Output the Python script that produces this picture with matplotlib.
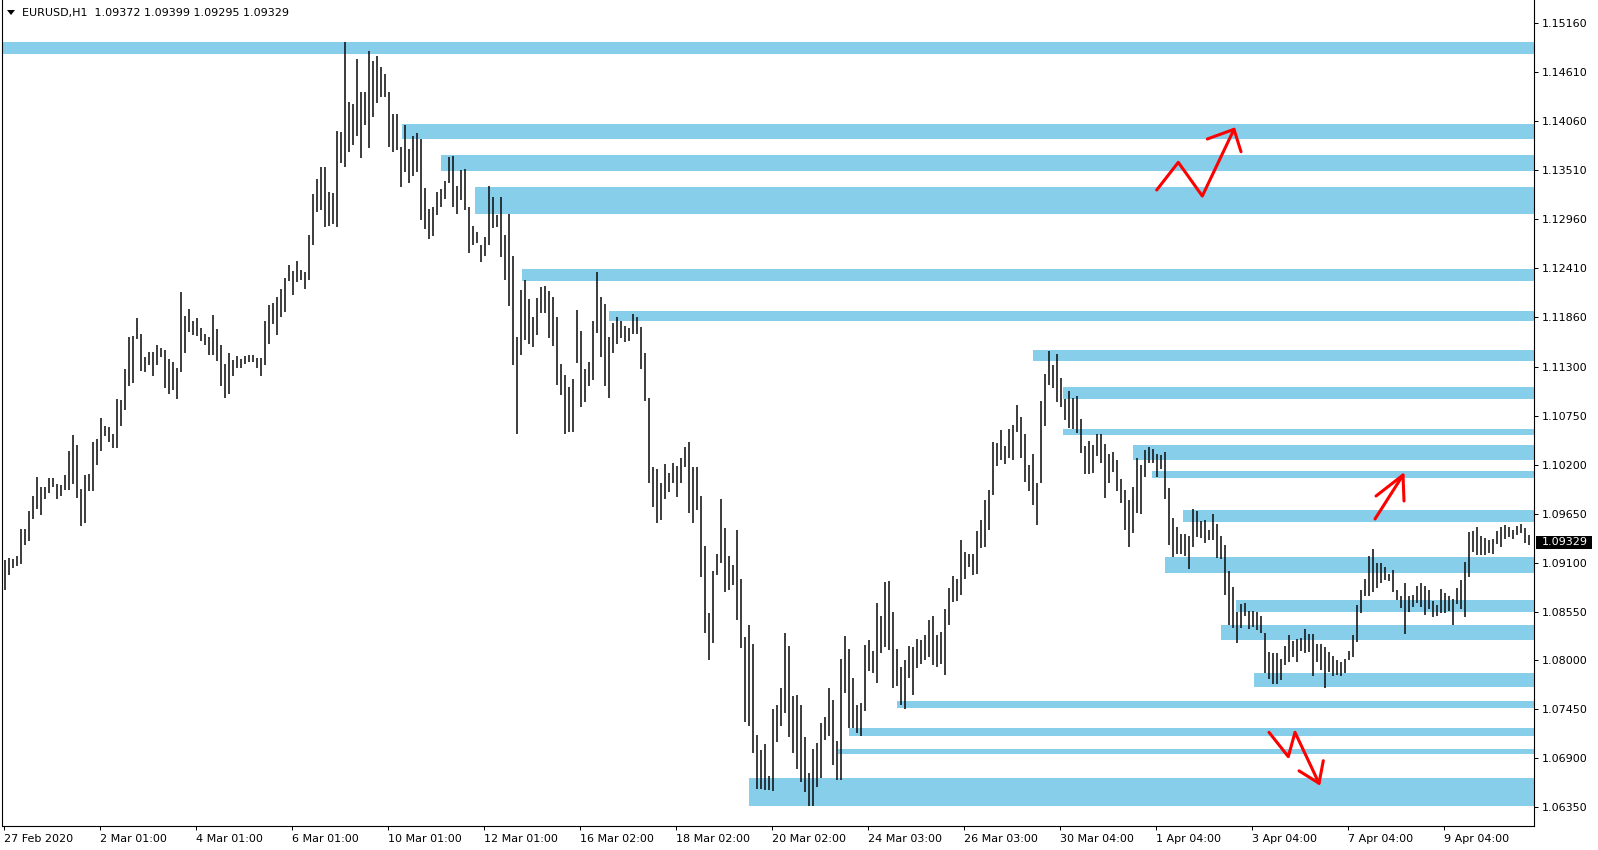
import matplotlib
matplotlib.use("Agg")
import matplotlib.pyplot as plt
from matplotlib.patches import Rectangle, Polygon
from matplotlib.transforms import blended_transform_factory

# ---------------- data ----------------
header_text = "EURUSD,H1  1.09372 1.09399 1.09295 1.09329"
last_price = 1.09329

# x tick labels (every 48 hourly bars)
time_tick_bars = [0, 48, 96, 144, 192, 240, 288, 336, 384, 432, 480, 528, 576, 624, 672, 720]
time_tick_labels = ["27 Feb 2020", "2 Mar 01:00", "4 Mar 01:00", "6 Mar 01:00",
                    "10 Mar 01:00", "12 Mar 01:00", "16 Mar 02:00", "18 Mar 02:00",
                    "20 Mar 02:00", "24 Mar 03:00", "26 Mar 03:00", "30 Mar 04:00",
                    "1 Apr 04:00", "3 Apr 04:00", "7 Apr 04:00", "9 Apr 04:00"]

price_ticks = [1.15160, 1.14610, 1.14060, 1.13510, 1.12960, 1.12410, 1.11860, 1.11300,
               1.10750, 1.10200, 1.09650, 1.09100, 1.08550, 1.08000, 1.07450, 1.06900,
               1.06350]

# high / low of each pair of H1 bars (2-hour blocks)
high = [
    1.0913, 1.0915, 1.0914, 1.0917, 1.0948, 1.0948, 1.0968, 1.0985, 1.1006, 1.0995,
    1.0995, 1.1005, 1.1005, 1.0998, 1.0997, 1.1008, 1.1035, 1.1053, 1.1042, 1.0993,
    1.1008, 1.1009, 1.1045, 1.1049, 1.1073, 1.1064, 1.1062, 1.1054, 1.1094, 1.1093,
    1.1128, 1.1163, 1.1165, 1.1185, 1.1167, 1.1141, 1.1147, 1.1147, 1.1155, 1.1151,
    1.1149, 1.1139, 1.1135, 1.1129, 1.1214, 1.1187, 1.1195, 1.1182, 1.1185, 1.1174,
    1.1167, 1.1163, 1.1188, 1.1173, 1.1154, 1.1133, 1.1146, 1.1138, 1.1142, 1.1139,
    1.1142, 1.1143, 1.1143, 1.1140, 1.1140, 1.1182, 1.1200, 1.1202, 1.1208, 1.1218,
    1.1230, 1.1244, 1.1238, 1.1249, 1.1239, 1.1237, 1.1278, 1.1324, 1.1341, 1.1355,
    1.1355, 1.1327, 1.1325, 1.1395, 1.1394, 1.1495, 1.1428, 1.1425, 1.1476, 1.1439,
    1.1439, 1.1485, 1.1474, 1.1479, 1.1467, 1.1459, 1.1439, 1.1414, 1.1414, 1.1377,
    1.1402, 1.1375, 1.1389, 1.1393, 1.1386, 1.1331, 1.1307, 1.1310, 1.1326, 1.1330,
    1.1339, 1.1366, 1.1367, 1.1333, 1.1351, 1.1352, 1.1310, 1.1288, 1.1281, 1.1267,
    1.1276, 1.1333, 1.1321, 1.1301, 1.1321, 1.1278, 1.1302, 1.1254, 1.1164, 1.1216,
    1.1227, 1.1206, 1.1186, 1.1207, 1.1220, 1.1221, 1.1215, 1.1209, 1.1186, 1.1133,
    1.1121, 1.1107, 1.1116, 1.1194, 1.1170, 1.1128, 1.1135, 1.1182, 1.1237, 1.1209,
    1.1201, 1.1164, 1.1179, 1.1186, 1.1181, 1.1176, 1.1174, 1.1189, 1.1186, 1.1175,
    1.1146, 1.1095, 1.1017, 1.1015, 1.0999, 1.1021, 1.1011, 1.1022, 1.1018, 1.1028,
    1.1040, 1.1046, 1.1017, 1.1017, 1.0985, 1.0929, 1.0853, 1.0901, 1.0920, 1.0981,
    1.0949, 1.0917, 1.0907, 1.0947, 1.0891, 1.0826, 1.0840, 1.0819, 1.0716, 1.0699,
    1.0706, 1.0670, 1.0745, 1.0750, 1.0769, 1.0831, 1.0816, 1.0760, 1.0761, 1.0750,
    1.0714, 1.0673, 1.0700, 1.0707, 1.0730, 1.0737, 1.0769, 1.0756, 1.0709, 1.0802,
    1.0828, 1.0813, 1.0780, 1.0750, 1.0752, 1.0817, 1.0823, 1.0811, 1.0865, 1.0850,
    1.0888, 1.0889, 1.0855, 1.0813, 1.0793, 1.0800, 1.0816, 1.0815, 1.0824, 1.0823,
    1.0829, 1.0846, 1.0850, 1.0829, 1.0832, 1.0858, 1.0882, 1.0895, 1.0891, 1.0935,
    1.0922, 1.0920, 1.0920, 1.0945, 1.0958, 1.0980, 1.0992, 1.1045, 1.1044, 1.1059,
    1.1041, 1.1060, 1.1065, 1.1087, 1.1074, 1.1055, 1.1020, 1.1032, 1.1000, 1.1092,
    1.1122, 1.1148, 1.1132, 1.1144, 1.1117, 1.1094, 1.1103, 1.1095, 1.1097, 1.1071,
    1.1041, 1.1047, 1.1042, 1.1055, 1.1055, 1.1043, 1.1032, 1.1034, 1.1025, 1.1004,
    1.0992, 1.0980, 1.0995, 1.1028, 1.1020, 1.1037, 1.1040, 1.1038, 1.1032, 1.1031,
    1.1034, 1.0994, 1.0960, 1.0950, 1.0942, 1.0942, 1.0940, 1.0970, 1.0968, 1.0957,
    1.0958, 1.0947, 1.0965, 1.0953, 1.0940, 1.0930, 1.0901, 1.0883, 1.0854, 1.0864,
    1.0865, 1.0856, 1.0856, 1.0854, 1.0850, 1.0831, 1.0810, 1.0808, 1.0808, 1.0802,
    1.0816, 1.0829, 1.0822, 1.0824, 1.0825, 1.0835, 1.0830, 1.0830, 1.0819, 1.0819,
    1.0815, 1.0809, 1.0805, 1.0801, 1.0798, 1.0802, 1.0811, 1.0829, 1.0862, 1.0879,
    1.0891, 1.0917, 1.0925, 1.0910, 1.0910, 1.0905, 1.0897, 1.0902, 1.0879, 1.0872,
    1.0887, 1.0872, 1.0874, 1.0884, 1.0887, 1.0884, 1.0879, 1.0867, 1.0862, 1.0880,
    1.0876, 1.0872, 1.0869, 1.0882, 1.0890, 1.0911, 1.0944, 1.0946, 1.0950, 1.0940,
    1.0938, 1.0935, 1.0936, 1.0945, 1.0950, 1.0952, 1.0950, 1.0947, 1.0951, 1.0953,
    1.0949, 1.0941,
]
low = [
    1.0879, 1.0896, 1.0904, 1.0906, 1.0908, 1.0930, 1.0934, 1.0959, 1.0970, 1.0964,
    1.0981, 1.0988, 1.0995, 1.0982, 1.0985, 1.0992, 1.0992, 1.0998, 1.0983, 1.0951,
    1.0955, 1.0990, 1.0990, 1.1020, 1.1035, 1.1052, 1.1046, 1.1039, 1.1039, 1.1063,
    1.1082, 1.1108, 1.1112, 1.1161, 1.1125, 1.1124, 1.1132, 1.1120, 1.1132, 1.1141,
    1.1106, 1.1100, 1.1104, 1.1094, 1.1124, 1.1146, 1.1169, 1.1166, 1.1165, 1.1159,
    1.1155, 1.1143, 1.1143, 1.1136, 1.1109, 1.1095, 1.1100, 1.1120, 1.1129, 1.1129,
    1.1133, 1.1135, 1.1135, 1.1129, 1.1120, 1.1132, 1.1156, 1.1178, 1.1166, 1.1186,
    1.1192, 1.1226, 1.1211, 1.1225, 1.1227, 1.1218, 1.1227, 1.1267, 1.1304, 1.1306,
    1.1287, 1.1288, 1.1291, 1.1287, 1.1359, 1.1355, 1.1371, 1.1379, 1.1389, 1.1365,
    1.1402, 1.1376, 1.1411, 1.1427, 1.1433, 1.1433, 1.1377, 1.1371, 1.1374, 1.1332,
    1.1349, 1.1336, 1.1344, 1.1349, 1.1295, 1.1285, 1.1274, 1.1277, 1.1301, 1.1310,
    1.1319, 1.1337, 1.1310, 1.1302, 1.1318, 1.1306, 1.1258, 1.1267, 1.1269, 1.1248,
    1.1254, 1.1267, 1.1286, 1.1287, 1.1253, 1.1227, 1.1198, 1.1132, 1.1055, 1.1143,
    1.1160, 1.1156, 1.1152, 1.1166, 1.1190, 1.1190, 1.1162, 1.1153, 1.1110, 1.1098,
    1.1055, 1.1057, 1.1057, 1.1134, 1.1085, 1.1090, 1.1109, 1.1115, 1.1168, 1.1141,
    1.1109, 1.1095, 1.1146, 1.1156, 1.1162, 1.1158, 1.1159, 1.1167, 1.1167, 1.1128,
    1.1092, 1.1000, 1.0973, 1.0955, 1.0958, 1.0981, 1.0989, 1.1000, 1.0984, 1.1000,
    1.1017, 1.0966, 1.0955, 1.0969, 1.0894, 1.0831, 1.0801, 1.0820, 1.0896, 1.0909,
    1.0877, 1.0879, 1.0885, 1.0845, 1.0814, 1.0731, 1.0726, 1.0696, 1.0656, 1.0656,
    1.0654, 1.0654, 1.0653, 1.0708, 1.0726, 1.0741, 1.0714, 1.0696, 1.0678, 1.0663,
    1.0652, 1.0637, 1.0636, 1.0658, 1.0668, 1.0711, 1.0715, 1.0683, 1.0666, 1.0666,
    1.0764, 1.0724, 1.0724, 1.0718, 1.0715, 1.0743, 1.0788, 1.0786, 1.0775, 1.0808,
    1.0815, 1.0812, 1.0769, 1.0771, 1.0750, 1.0746, 1.0780, 1.0761, 1.0792, 1.0796,
    1.0801, 1.0804, 1.0795, 1.0793, 1.0796, 1.0784, 1.0840, 1.0866, 1.0867, 1.0874,
    1.0892, 1.0905, 1.0896, 1.0897, 1.0926, 1.0927, 1.0947, 1.0986, 1.1018, 1.1025,
    1.1021, 1.1027, 1.1025, 1.1057, 1.1027, 1.1001, 1.0990, 1.0975, 1.0952, 1.1000,
    1.1064, 1.1110, 1.1106, 1.1090, 1.1085, 1.1070, 1.1061, 1.1060, 1.1056, 1.1033,
    1.1010, 1.1010, 1.1011, 1.1030, 1.1022, 1.0983, 1.1000, 1.1012, 1.0990, 1.0977,
    1.0947, 1.0927, 1.0943, 1.0966, 1.0965, 1.1006, 1.1022, 1.1022, 1.1006, 1.1015,
    1.0981, 1.0930, 1.0916, 1.0920, 1.0920, 1.0917, 1.0903, 1.0928, 1.0939, 1.0938,
    1.0932, 1.0935, 1.0935, 1.0915, 1.0914, 1.0874, 1.0840, 1.0837, 1.0820, 1.0836,
    1.0850, 1.0835, 1.0838, 1.0834, 1.0831, 1.0786, 1.0779, 1.0774, 1.0774, 1.0778,
    1.0795, 1.0798, 1.0804, 1.0798, 1.0811, 1.0808, 1.0810, 1.0783, 1.0798, 1.0789,
    1.0769, 1.0787, 1.0782, 1.0784, 1.0782, 1.0786, 1.0801, 1.0804, 1.0821, 1.0853,
    1.0872, 1.0872, 1.0877, 1.0881, 1.0887, 1.0890, 1.0889, 1.0877, 1.0868, 1.0859,
    1.0830, 1.0855, 1.0860, 1.0865, 1.0860, 1.0851, 1.0858, 1.0849, 1.0850, 1.0853,
    1.0853, 1.0856, 1.0840, 1.0863, 1.0858, 1.0849, 1.0894, 1.0922, 1.0919, 1.0919,
    1.0919, 1.0921, 1.0920, 1.0931, 1.0928, 1.0936, 1.0939, 1.0936, 1.0941, 1.0943,
    1.0932, 1.09295,
]

# supply / demand zones: starting bar, top price, bottom price
zone_start = [-0.8, 199.0, 218.7, 235.7, 259.0, 302.5, 514.5, 529.5, 529.7, 564.5,
              574.0, 589.5, 580.7, 616.2, 608.7, 625.2, 446.7, 422.7, 417.2, 372.7]
zone_top = [1.14953, 1.14028, 1.13680, 1.13324, 1.12396, 1.11927, 1.11488, 1.11076,
            1.10598, 1.10421, 1.10129, 1.09691, 1.09166, 1.08680, 1.08398, 1.07863,
            1.07545, 1.07238, 1.07002, 1.06674]
zone_bottom = [1.14812, 1.13857, 1.13504, 1.13014, 1.12268, 1.11815, 1.11368, 1.10938,
               1.10534, 1.10253, 1.10054, 1.09560, 1.08986, 1.08548, 1.08230, 1.07706,
               1.07470, 1.07151, 1.06946, 1.06364]

# hand-drawn red arrows (bar, price)
arrow_up_zigzag = ([576.55, 587.35, 599.35, 615.2], [1.13287, 1.13598, 1.13219, 1.13969])
arrow_up_zigzag_head = ([601.85, 615.2, 618.7], [1.13860, 1.13969, 1.13717])
arrow_up = ([685.7, 699.7], [1.09590, 1.10084])
arrow_up_head = ([686.2, 699.7, 700.2], [1.09848, 1.10084, 1.09792])
arrow_down_zigzag = ([632.7, 642.35, 645.7, 657.7], [1.07193, 1.06919, 1.07193, 1.06620])
arrow_down_zigzag_head = ([647.7, 657.7, 659.85], [1.06760, 1.06620, 1.06874])

# ---------------- figure ----------------
W, H = 1598, 850
fig = plt.figure(figsize=(W / 100, H / 100), dpi=100)
fig.patch.set_facecolor("white")

ax_left, ax_right, ax_bottom = 2, 1534, 826
ax = fig.add_axes([ax_left / W, (H - ax_bottom) / H, (ax_right - ax_left) / W, ax_bottom / H])
x_min, x_max = -0.8, 765.2
ax.set_xlim(x_min, x_max)
ax.set_ylim(1.06140, 1.15422)
ax.set_facecolor("white")

zone_color = "#87CEEB"
for s, t, b in zip(zone_start, zone_top, zone_bottom):
    ax.add_patch(Rectangle((s, b), x_max - s + 2, t - b, facecolor=zone_color,
                           edgecolor="none", zorder=1))

xs = [2 * j + 0.5 for j in range(len(high))]
ax.vlines(xs, low, high, colors="#111111", linewidth=1.15, zorder=3)

red_lw = 2.2
for (px, py) in [arrow_up_zigzag, arrow_up_zigzag_head, arrow_up, arrow_up_head,
                 arrow_down_zigzag, arrow_down_zigzag_head]:
    ax.plot(px, py, color="#FF0000", lw=red_lw, solid_capstyle="round",
            solid_joinstyle="round", zorder=4)

# axes styling
for side in ["left", "bottom", "right"]:
    ax.spines[side].set_color("black")
    ax.spines[side].set_linewidth(0.8)
ax.spines["top"].set_visible(False)

ax.yaxis.tick_right()
ax.set_yticks(price_ticks)
ax.set_yticklabels([f"{p:.5f}" for p in price_ticks])
ax.tick_params(axis="y", direction="out", length=3, width=0.72, pad=2.5,
               labelsize=8, colors="black")
ax.set_xticks(time_tick_bars)
ax.set_xticklabels(time_tick_labels)
ax.tick_params(axis="x", direction="out", length=3, width=0.72, pad=2.5,
               labelsize=8, colors="black")
for lbl in ax.get_xticklabels():
    lbl.set_horizontalalignment("left")

# last price box on the price scale
trans = blended_transform_factory(fig.transFigure, ax.transData)
box_h = 13.3 / 8899.0
ax.add_patch(Rectangle((1536 / W, last_price - box_h / 2), 55.7 / W, box_h,
                       transform=trans, facecolor="black", edgecolor="none",
                       clip_on=False, zorder=5))
ax.text(1541.5 / W, last_price, f"{last_price:.5f}", transform=trans, color="white",
        fontsize=8, ha="left", va="center", clip_on=False, zorder=6)

# header
fig.add_artist(Polygon([(7 / W, 1 - 10 / H), (15 / W, 1 - 10 / H), (11 / W, 1 - 15 / H)],
                       closed=True, transform=fig.transFigure, facecolor="black",
                       edgecolor="none"))
fig.text(21.5 / W, 1 - 12.7 / H, header_text, fontsize=8, ha="left", va="center",
         color="black")

fig.savefig("out.png", dpi=100, facecolor="white")
